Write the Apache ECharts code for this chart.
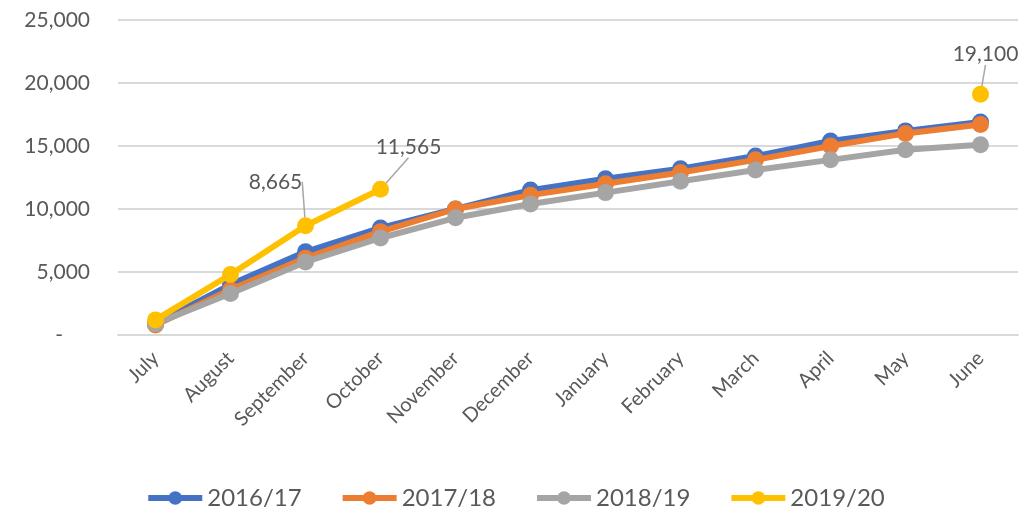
<!DOCTYPE html>
<html>
<head>
<meta charset="utf-8">
<script src="https://cdn.jsdelivr.net/npm/echarts@6/dist/echarts.min.js"></script>
<style>
  * { margin: 0; padding: 0; }
  #container { width: 1030px; height: 518px; background: #fff; }
</style>
</head>
<body>
<div id="container"></div>
<script>
var months = ['July', 'August', 'September', 'October', 'November', 'December',
              'January', 'February', 'March', 'April', 'May', 'June'];
var y2016 = [900, 4000, 6600, 8500, 10000, 11500, 12400, 13200, 14200, 15400, 16200, 16900];
var y2017 = [800, 3600, 6100, 8200, 10000, 11100, 12000, 12900, 13900, 15000, 16000, 16700];
var y2018 = [900, 3300, 5800, 7700, 9300, 10400, 11300, 12200, 13100, 13900, 14700, 15100];
var y2019 = [1200, 4800, 8665, 11565, null, null, null, null, null, null, null, 19100];
var labelled = [2, 3, 11];   // points of 2019/20 carrying a data label
var yTicks = { min: 0, max: 25000, interval: 5000 };

var textColor = '#595959';
var font = 'Lato';

// label offsets (dx, dy) for the callouts
var labelShift = { 2: [-30, -20], 3: [28, -18], 11: [5, -16] };

function makeSeries(name, data, color, z) {
  return {
    name: name,
    type: 'line',
    data: data,
    z: z,
    symbol: 'circle',
    symbolSize: 17,
    connectNulls: false,
    lineStyle: { width: 6, color: color },
    itemStyle: { color: color },
    emphasis: { disabled: true }
  };
}

var chart = echarts.init(document.getElementById('container'));

var s2019 = makeSeries('2019/20', y2019.map(function (v, i) {
  if (labelled.indexOf(i) >= 0) {
    return { value: v, label: { show: true } };
  }
  return v;
}), '#FFC000', 5);
s2019.label = {
  show: false,
  position: 'top',
  fontFamily: font,
  fontSize: 21,
  color: textColor,
  formatter: function (p) { return p.value.toLocaleString('en-US'); }
};
s2019.labelLine = { show: true, showAbove: true, lineStyle: { color: '#a6a6a6', width: 1.5 } };
s2019.labelLayout = function (p) {
  var d = labelShift[p.dataIndex];
  return d ? { dx: d[0], dy: d[1] } : {};
};

chart.setOption({
  animation: false,
  grid: { left: 118, right: 12, top: 20, bottom: 183 },
  legend: {
    bottom: 3,
    left: 'center',
    itemWidth: 54,
    itemHeight: 17,
    itemGap: 38,
    lineStyle: { width: 6 },
    textStyle: { fontFamily: font, fontSize: 24, color: textColor },
    data: ['2016/17', '2017/18', '2018/19', '2019/20']
  },
  xAxis: {
    type: 'category',
    data: months,
    boundaryGap: true,
    axisLine: { lineStyle: { color: '#d9d9d9', width: 2 } },
    axisTick: { show: false },
    axisLabel: { rotate: 45, fontFamily: font, fontSize: 20, color: textColor, margin: 20 }
  },
  yAxis: {
    type: 'value',
    min: yTicks.min,
    max: yTicks.max,
    interval: yTicks.interval,
    axisLine: { show: false },
    axisTick: { show: false },
    splitLine: { lineStyle: { color: '#d9d9d9', width: 2 } },
    axisLabel: {
      fontFamily: font, fontSize: 21, color: textColor, margin: 28,
      formatter: function (v) { return v === 0 ? '-     ' : v.toLocaleString('en-US'); }
    }
  },
  series: [
    makeSeries('2016/17', y2016, '#4472C4', 2),
    makeSeries('2017/18', y2017, '#ED7D31', 3),
    makeSeries('2018/19', y2018, '#A5A5A5', 4),
    s2019
  ]
});
</script>
</body>
</html>
